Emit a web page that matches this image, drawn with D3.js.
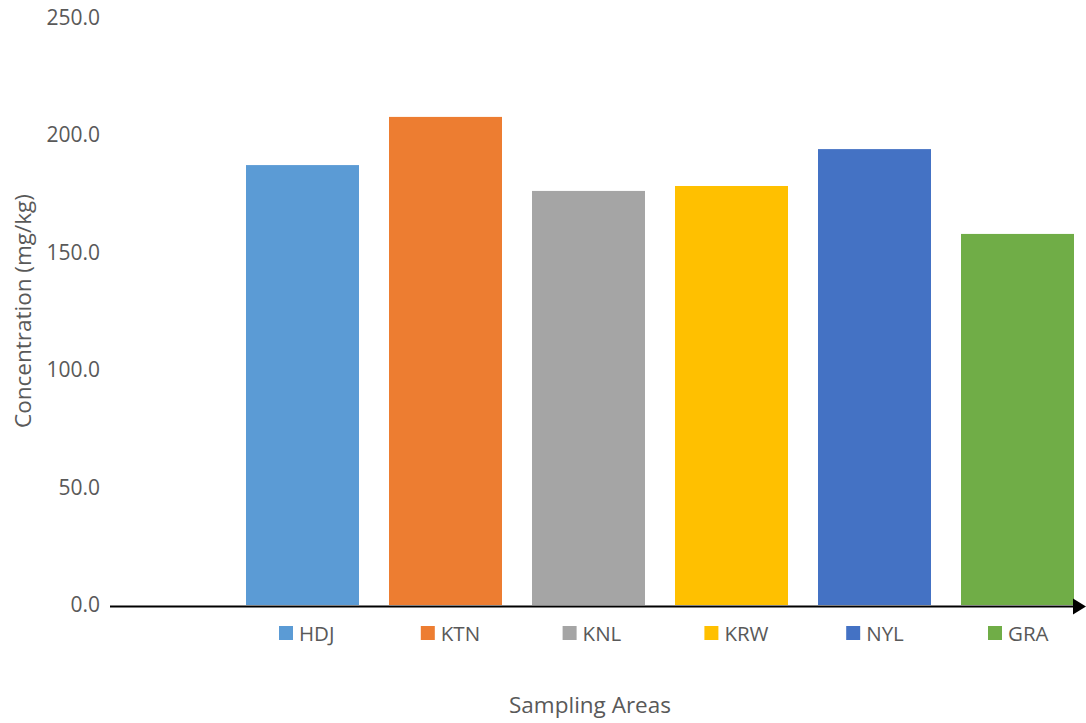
<!DOCTYPE html>
<html>
<head>
<meta charset="utf-8">
<script src="https://cdn.jsdelivr.net/npm/d3@7"></script>
<style>
  html, body { margin: 0; padding: 0; background: #fff; }
  svg { display: block; }
  text { font-family: "Open Sans", "Noto Sans", sans-serif; fill: #595959; }
</style>
</head>
<body>
<svg id="chart" width="1086" height="723"></svg>
<script>
// Sampling areas and their measured concentrations (mg/kg)
const areas = ["HDJ", "KTN", "KNL", "KRW", "NYL", "GRA"];
const concentrations = [187.2, 207.7, 176.2, 178.3, 194.0, 157.9];
const barColors = ["#5B9BD5", "#ED7D31", "#A5A5A5", "#FFC000", "#4472C4", "#70AD47"];
const yTicks = [0, 50, 100, 150, 200, 250];

const svg = d3.select("#chart");

const y = d3.scaleLinear().domain([0, 250]).range([605, 17.5]);
const x = d3.scaleBand()
  .domain(areas)
  .range([231, 1089])
  .paddingInner(30 / 143)
  .paddingOuter(15 / 143);

// Y axis labels only (no domain line, no tick marks)
const yAxis = svg.append("g")
  .attr("transform", "translate(100,0)")
  .call(d3.axisLeft(y).tickValues(yTicks).tickSize(0).tickPadding(0)
    .tickFormat(d3.format(".1f")));
yAxis.select(".domain").remove();
yAxis.selectAll("text")
  .attr("font-size", 21)
  .attr("font-family", "\"Open Sans\", sans-serif")
  .attr("fill", "#595959");

// Bars
svg.append("g").selectAll("rect")
  .data(areas)
  .join("rect")
  .attr("x", d => x(d))
  .attr("width", x.bandwidth())
  .attr("y", (d, i) => y(concentrations[i]))
  .attr("height", (d, i) => y(0) - y(concentrations[i]))
  .attr("fill", (d, i) => barColors[i]);

// X axis line ending in a filled arrowhead
const axisY = y(0) + 1.5;
svg.append("line")
  .attr("x1", 110).attr("x2", 1074)
  .attr("y1", axisY).attr("y2", axisY)
  .attr("stroke", "#000")
  .attr("stroke-width", 2);
svg.append("path")
  .attr("d", `M1073,${axisY - 8} L1086,${axisY} L1073,${axisY + 8} Z`)
  .attr("fill", "#000");

// Legend
const legendX = d3.scalePoint().domain(areas).range([279, 988]);
const legend = svg.append("g").selectAll("g")
  .data(areas)
  .join("g")
  .attr("transform", d => `translate(${legendX(d)},626)`);
legend.append("rect")
  .attr("width", 14).attr("height", 14)
  .attr("fill", (d, i) => barColors[i]);
legend.append("text")
  .attr("x", 20).attr("y", 7)
  .attr("dominant-baseline", "central")
  .attr("font-size", 20.5)
  .text(d => d);

// Axis titles
svg.append("text")
  .attr("x", 590).attr("y", 704)
  .attr("text-anchor", "middle")
  .attr("dominant-baseline", "central")
  .attr("font-size", 22.5)
  .text("Sampling Areas");

svg.append("text")
  .attr("transform", "translate(22,311) rotate(-90)")
  .attr("text-anchor", "middle")
  .attr("dominant-baseline", "central")
  .attr("font-size", 22.5)
  .text("Concentration (mg/kg)");
</script>
</body>
</html>
